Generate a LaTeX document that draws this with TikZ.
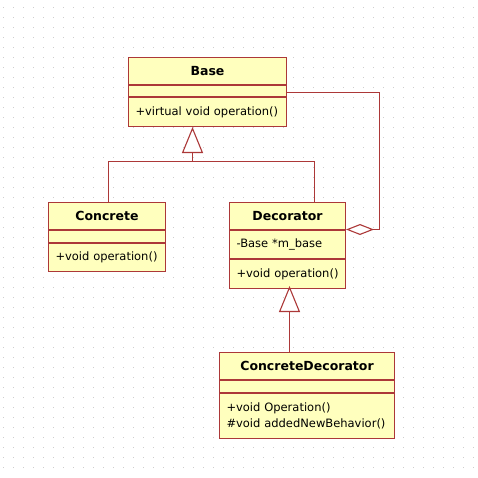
\documentclass[tikz,border=0pt]{standalone}
\usepackage{fontspec}
\setmainfont{DejaVu Sans}
\usepackage{tikz}
\usetikzlibrary{calc}
\usetikzlibrary{arrows.meta}
\usetikzlibrary{positioning}
\definecolor{umlborder}{RGB}{172,56,56}
\definecolor{umlfill}{RGB}{255,255,190}
\definecolor{griddot}{RGB}{205,205,205}

\begin{document}
\begin{tikzpicture}[
	x=1pt, y=-1pt,
	ClassPart/.style={draw=umlborder,fill=umlfill,line width=1pt,inner sep=0pt,anchor=north west,
		font=\fontsize{11.5}{16}\selectfont},
	ClassName/.style={ClassPart,font=\fontsize{12.5}{14}\bfseries\selectfont},
	ClassText/.style={ClassPart,align=left,inner xsep=7pt},
	Links/.style={draw=umlborder,line width=1.1pt},
	Inherit/.style={Links,-{Triangle[open,length=26pt,width=21pt,fill=white]}},
	Aggreg/.style={Links,{Diamond[open,length=28pt,width=11pt,fill=white]}-}
	]
	\useasboundingbox (0,0) rectangle (478,477);
	\fill[white] (0,0) rectangle (478,477);
	
	% dotted background
	\foreach \x in {3,13,...,473}
	{ \foreach \y in {7,17,...,476}
		{ \fill[griddot] (\x,\y) rectangle ++(1,1);
		}
	}
	
	% Base
	\node[ClassName,minimum width=158pt,minimum height=27pt] (baseName) at (128,57) {Base};
	\node[ClassPart,minimum width=158pt,minimum height=11pt] (baseAttr) at (baseName.south west) {};
	\node[ClassText,text width=144pt,minimum height=29pt] (baseOps) at (baseAttr.south west) {+virtual void operation()};
	
	% Concrete
	\node[ClassName,minimum width=117pt,minimum height=27pt] (concreteName) at (48,202) {Concrete};
	\node[ClassPart,minimum width=117pt,minimum height=12pt] (concreteAttr) at (concreteName.south west) {};
	\node[ClassText,text width=103pt,minimum height=28pt] (concreteOps) at (concreteAttr.south west) {+void operation()};
	
	% Decorator
	\node[ClassName,minimum width=116pt,minimum height=27pt] (decoratorName) at (229,202) {Decorator};
	\node[ClassText,text width=102pt,minimum height=28pt] (decoratorAttr) at (decoratorName.south west) {-Base *m\_base};
	\node[ClassText,text width=102pt,minimum height=29pt] (decoratorOps) at (decoratorAttr.south west) {+void operation()};
	
	% ConcreteDecorator
	\node[ClassName,minimum width=175pt,minimum height=27pt] (cdName) at (219,352) {ConcreteDecorator};
	\node[ClassPart,minimum width=175pt,minimum height=12pt] (cdAttr) at (cdName.south west) {};
	\node[ClassText,text width=161pt,minimum height=45pt] (cdOps) at (cdAttr.south west) {+void Operation()\\\#void addedNewBehavior()};
	
	% generalization to Base
	\coordinate (branch) at (192.5,161.5);
	\coordinate (concreteTop) at (108.5,202);
	\draw[Links] (concreteTop) |- (branch) -| ($(decoratorName.north west)+(85.5,0)$);
	\draw[Inherit] (branch) -- (branch |- baseOps.south);
	
	% generalization to Decorator
	\coordinate (decoratorFoot) at (289.5,286);
	\draw[Inherit] (decoratorFoot |- cdName.north) -- (decoratorFoot);
	
	% aggregation
	\coordinate (aggCorner) at (379.5,92.5);
	\draw[Aggreg] ($(decoratorName.south east)+(0,-0.5)$) -| (aggCorner) -- (aggCorner -| baseAttr.east);
	
\end{tikzpicture}
\end{document}
